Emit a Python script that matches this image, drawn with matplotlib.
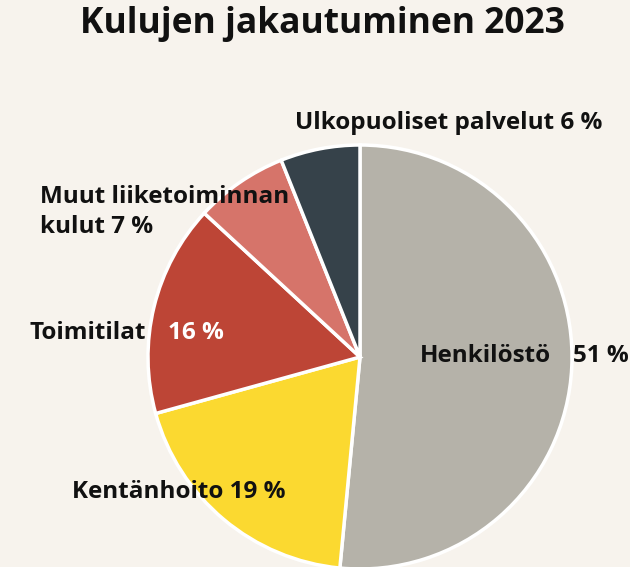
import matplotlib.pyplot as plt

# data
categories = ['Henkilöstö', 'Kentänhoito', 'Toimitilat', 'Muut liiketoiminnan kulut', 'Ulkopuoliset palvelut']
shares = [51, 19, 16, 7, 6]
colors = ['#b5b2a9', '#fbd930', '#bd4536', '#d6746a', '#36424a']

bg = '#f7f3ed'
plt.rcParams['font.family'] = ['Open Sans', 'DejaVu Sans']

fig = plt.figure(figsize=(6.3, 5.67), dpi=100, facecolor=bg)
ax = fig.add_axes([0, 0, 1, 1])
ax.set_facecolor(bg)

# pie in pixel-like coordinates
ax.pie(shares, colors=colors, startangle=90, counterclock=False,
       center=(360, 210), radius=212, frame=True,
       wedgeprops=dict(edgecolor='white', linewidth=2.5))
ax.set_xlim(0, 630)
ax.set_ylim(0, 567)
ax.set_aspect('equal')
ax.axis('off')

ax.text(322, 543, 'Kulujen jakautuminen 2023', ha='center', va='center',
        fontsize=25.5, fontweight='bold', color='#111111')

fs = 17.5
lab = dict(fontsize=fs, fontweight='bold', color='#111111', va='center')
ax.text(551, 211, categories[0], ha='right', **lab)
ax.text(573, 211, f'{shares[0]} %', ha='left', **lab)
ax.text(72, 75, f'{categories[1]} {shares[1]} %', ha='left', **lab)
ax.text(146, 234, categories[2], ha='right', **lab)
ax.text(168, 234, f'{shares[2]} %', ha='left', fontsize=fs, fontweight='bold',
        color='white', va='center')
ax.text(40, 355, 'Muut liiketoiminnan\nkulut ' + f'{shares[3]} %', ha='left',
        linespacing=1.33, **lab)
ax.text(295, 444, f'{categories[4]} {shares[4]} %', ha='left', **lab)

fig.savefig('out.png', dpi=100, facecolor=bg)
